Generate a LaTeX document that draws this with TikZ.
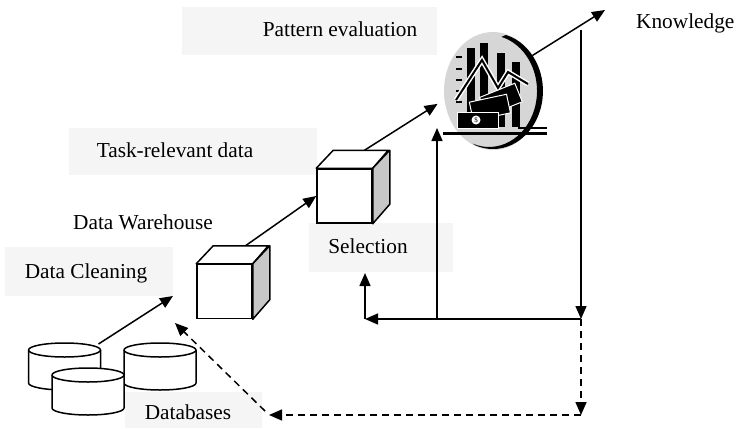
\documentclass[tikz,border=0pt]{standalone}
\usepackage{fontspec}
\setmainfont{Liberation Serif}
\usetikzlibrary{arrows.meta,shapes.geometric,backgrounds}

\begin{document}
\begin{tikzpicture}[
      x=1pt, y=-1pt,
      font=\fontsize{21.3}{25}\selectfont,
      lbl/.style={anchor=base, inner sep=0pt},
      patch/.style={fill=black!4},
      arr/.style={-{Triangle[length=13pt,width=11pt]}, line width=1.5pt},
      darr/.style={arr, dash pattern=on 7pt off 5pt},
      face/.style={draw, line width=1.5pt, fill=white, inner sep=0pt,
                   minimum width=55pt, minimum height=54pt},
      cubeline/.style={line width=1.5pt, line join=round},
      dbcyl/.pic={
        \filldraw[line width=1.5pt, fill=white]
          (-36,0) -- (-36,33) arc[start angle=180, end angle=0, x radius=36, y radius=7]
          -- (36,0) arc[start angle=0, end angle=-180, x radius=36, y radius=7] -- cycle;
        \draw[line width=1.5pt] (-36,0) arc[start angle=180, end angle=0, x radius=36, y radius=7];
        \coordinate (-rim) at (34,-6);
      },
    ]
    \useasboundingbox (0,0) rectangle (743,428);

    % ---------- label backdrops ----------
    \begin{scope}[on background layer]
      \fill[patch] (182,7) rectangle (437,55);
      \fill[patch] (69,128) rectangle (317,175);
      \fill[patch] (5,247) rectangle (173,296);
      \fill[patch] (309,223) rectangle (453,272);
      \fill[patch] (125,392) rectangle (262,428);
    \end{scope}

    % ---------- labels ----------
    \node[lbl] (lPattern) at (340,37) {Pattern evaluation};
    \node[lbl] (lTask) at (175,157) {Task-relevant data};
    \node[lbl] (lWare) at (143,229) {Data Warehouse};
    \node[lbl] (lClean) at (86,278) {Data Cleaning};
    \node[lbl] (lSel) at (368,253) {Selection};
    \node[lbl] (lDb) at (188,419) {Databases};
    \node[lbl, anchor=base west] (lKnow) at (636,29) {Knowledge};

    % ---------- databases ----------
    \pic (db1) at (64.5,350) {dbcyl};
    \pic (db3) at (160,350) {dbcyl};
    \pic (db2) at (88,375) {dbcyl};

    % ---------- cubes ----------
    \node[face] (wh) at (224.5,291.5) {};
    \filldraw[cubeline, fill=white] (wh.north west) -- ++(17,-18) -- ++(55,0) -- (wh.north east) -- cycle;
    \filldraw[cubeline, fill=black!22] (wh.north east) -- ++(17,-18) -- ++(0,54) -- (wh.south east) -- cycle;

    \node[face] (sel) at (344.5,196) {};
    \filldraw[cubeline, fill=white] (sel.north west) -- ++(17,-18) -- ++(55,0) -- (sel.north east) -- cycle;
    \filldraw[cubeline, fill=black!22] (sel.north east) -- ++(17,-18) -- ++(0,54) -- (sel.south east) -- cycle;

    % ---------- knowledge icon ----------
    \node[ellipse, fill=black!16, inner sep=0pt, minimum width=98pt, minimum height=118pt] (know) at (493,91) {};
    \fill (505.9,35) arc[start angle=-75, end angle=110, x radius=50, y radius=58]
      -- (472.6,143.6) arc[start angle=110, end angle=-75, x radius=48, y radius=56] -- cycle;
    \fill (467,48) rectangle (475,127);
    \fill (480,43) rectangle (488,127);
    \fill (497,53) rectangle (505,127);
    \fill (512,62) rectangle (520,127);
    \foreach \ty in {57,69,80,91,102}
      \draw[line width=1.5pt] (456,\ty) -- (462,\ty);
    \draw[white, line width=5pt] (456,100) -- (482,60) -- (498,88) -- (508,72) -- (528,84);
    \draw[line width=2pt] (456,100) -- (482,60) -- (498,88) -- (508,72) -- (528,84);
    \filldraw[fill=black, draw=white, line width=1pt, rotate around={22:(500,100)}] (482,90) rectangle (520,110);
    \filldraw[fill=black, draw=white, line width=1pt, rotate around={12:(490,108)}] (471,98) rectangle (509,117);
    \filldraw[fill=black, draw=white, line width=1pt] (457,112) rectangle (498,128);
    \fill[white] (476,120) circle[radius=4.5];
    \node[inner sep=0pt, font=\fontsize{7}{7}\selectfont] (dollar) at (476,120) {\$};
    \draw[line width=3pt] (443,133) -- (547,133);
    \draw[line width=2.5pt] (518,128) -- (547,128);

    % ---------- flow ----------
    \coordinate (whIn) at (173,296);
    \coordinate (whTop) at ([shift={(21,-18)}]wh.north);
    \coordinate (selTop) at ([shift={(20,-18)}]sel.north);
    \coordinate (kOut) at (605,10);
    \draw[arr] (db1-rim) -- (whIn);
    \draw[arr] (whTop) -- (sel.west);
    \draw[arr, shorten >=8pt] (selTop) -- (know.190);
    \draw[arr] (know.42) -- (kOut);

    % ---------- feedback ----------
    \coordinate (fbTop) at (581,30);
    \coordinate (fbMid) at (581,319);
    \coordinate (fbBranch) at (437,319);
    \coordinate (fbIcon) at (437,128);
    \coordinate (fbLeft) at (365,319);
    \coordinate (fbUp) at (365,273);
    \draw[arr] (fbTop) -- (fbMid);
    \draw[arr] (fbMid) -- (fbLeft);
    \draw[arr] (fbLeft) -- (fbUp);
    \draw[arr] (fbBranch) -- (fbIcon);

    % ---------- back to the sources ----------
    \coordinate (fbBot) at (581,415);
    \coordinate (dbBack) at (269,415);
    \coordinate (diagStart) at (265,411);
    \coordinate (whBack) at (175,323);
    \draw[darr] (fbMid) -- (fbBot);
    \draw[darr] (fbBot) -- (dbBack);
    \draw[darr] (diagStart) -- (whBack);

  \end{tikzpicture}
\end{document}
